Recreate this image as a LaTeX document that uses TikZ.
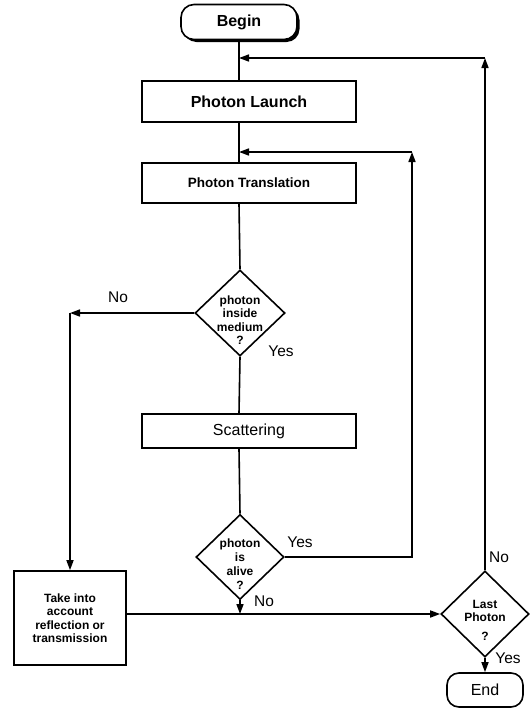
\documentclass[tikz,border=0pt]{standalone}
\usepackage{fontspec}
\setmainfont{Liberation Sans}
\usetikzlibrary{calc, arrows.meta, shapes.geometric, shadows}

\begin{document}
\begin{tikzpicture}[x=1pt,y=-1pt,
    box/.style={draw, line width=1.6pt, inner sep=0pt},
    terminal/.style={box, rounded corners=13pt},
    decision/.style={draw, diamond, line width=1.6pt, inner sep=0pt},
    qtext/.style={font=\bfseries\fontsize{12}{13.5}\selectfont, align=center, inner sep=0pt},
    answer/.style={font=\fontsize{15.5}{18}\selectfont, inner sep=0pt},
    link/.style={line width=1.6pt},
    arrow/.style={link, -{Triangle[length=10pt,width=7pt]}}]
      \useasboundingbox (0,0) rectangle (530,710);

      \node[terminal, minimum width=116, minimum height=35, font=\bfseries\fontsize{16}{18}\selectfont,
            drop shadow={shadow xshift=2.5pt, shadow yshift=-2.5pt, fill=black, opacity=1}, fill=white]
            (begin) at (239,22) {Begin};
      \node[box, minimum width=214, minimum height=41, font=\bfseries\fontsize{16}{18}\selectfont]
            (launch) at (249,101.5) {Photon Launch};
      \node[box, minimum width=214, minimum height=40, font=\bfseries\fontsize{13.5}{15}\selectfont]
            (translation) at (249,183) {Photon Translation};
      \node[decision, minimum width=90, minimum height=86] (medium) at (240,313) {};
      \node[qtext] (mediumtext) at (240,320) {photon\\inside\\medium\\?};
      \node[box, minimum width=214, minimum height=34, font=\fontsize{16}{18}\selectfont]
            (scatter) at (249,431) {Scattering};
      \node[decision, minimum width=88, minimum height=85] (alive) at (240,557) {};
      \node[qtext, font=\bfseries\fontsize{12}{14}\selectfont] (alivetext) at (240,564) {photon\\is\\alive\\?};
      \node[box, minimum width=112, minimum height=94, qtext, inner sep=0pt] (account) at (70,618)
            {Take into\\account\\reflection or\\transmission};
      \node[decision, minimum width=88, minimum height=86] (last) at (485,614) {};
      \node[qtext] (lasttext) at (485,620) {Last\\Photon\\[5pt]?};
      \node[terminal, rounded corners=12pt, minimum width=76, minimum height=34, font=\fontsize{16}{18}\selectfont]
            (end) at (485,690) {End};

      \coordinate (loopA) at (485,58);
      \coordinate (loopB) at (412,152);

      \draw[link] (begin.south) -- (begin.south |- launch.north);
      \draw[link] (begin.south |- launch.south) -- (begin.south |- translation.north);
      \draw[link] (begin.south |- translation.south) -- (medium.north);
      \draw[link] (medium.south) -- (begin.south |- scatter.north);
      \draw[link] (begin.south |- scatter.south) -- (alive.north);

      \draw[arrow] (last.north) -- (loopA);
      \draw[arrow] (loopA) -- (begin.south |- loopA);
      \draw[arrow] (alive.east) -- (alive.east -| loopB) -- (loopB);
      \draw[arrow] (loopB) -- (begin.south |- loopB);
      \draw[arrow] (medium.west) -- (account.north |- medium.west);
      \draw[arrow] (account.north |- medium.west) -- (account.north);
      \draw[arrow] (account.east |- last.west) -- (last.west);
      \draw[arrow] (alive.south) -- (alive.south |- last.west);
      \draw[arrow] (last.south) -- (end.north);

      \node[answer] (mediumno) at (118,297) {No};
      \node[answer] (mediumyes) at (281,351) {Yes};
      \node[answer] (aliveyes) at (300,542) {Yes};
      \node[answer] (aliveno) at (264,601) {No};
      \node[answer] (lastno) at (499,557) {No};
      \node[answer] (lastyes) at (508,658) {Yes};
    \end{tikzpicture}
\end{document}
